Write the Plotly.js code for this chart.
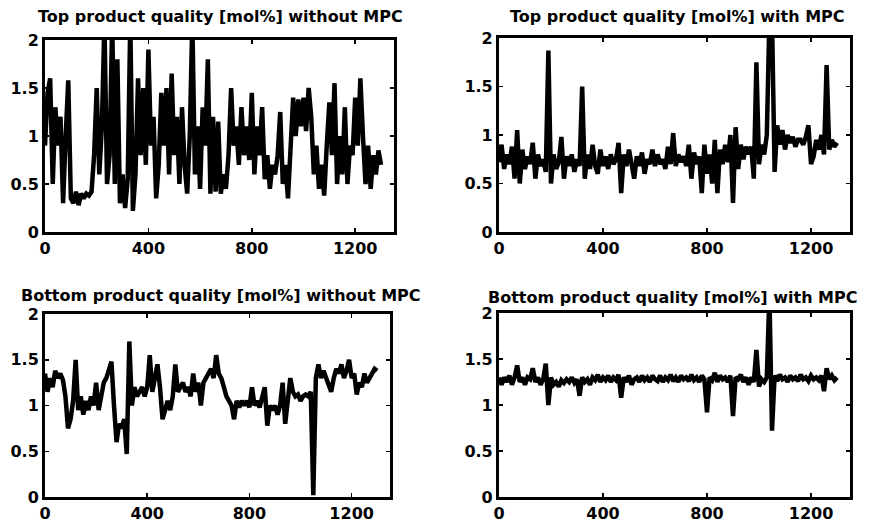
<!DOCTYPE html>
<html>
<head>
<meta charset="utf-8">
<script src="https://cdn.plot.ly/plotly-3.0.1.min.js"></script>
<style>html,body{margin:0;padding:0;background:#fff;}#chart{width:872px;height:529px;}</style>
</head>
<body>
<div id="chart"></div>
<script>
const sampleTimes = [0,10,20,30,40,50,60,70,80,90,100,110,120,130,140,150,160,170,180,190,200,210,220,230,240,250,260,270,280,290,300,310,320,330,340,350,360,370,380,390,400,410,420,430,440,450,460,470,480,490,500,510,520,530,540,550,560,570,580,590,600,610,620,630,640,650,660,670,680,690,700,710,720,730,740,750,760,770,780,790,800,810,820,830,840,850,860,870,880,890,900,910,920,930,940,950,960,970,980,990,1000,1010,1020,1030,1040,1050,1060,1070,1080,1090,1100,1110,1120,1130,1140,1150,1160,1170,1180,1190,1200,1210,1220,1230,1240,1250,1260,1270,1280,1290,1300];

const topWithout = [0.9,1.45,1.6,0.5,1.3,0.9,1.2,0.3,1.0,1.58,0.35,0.3,0.42,0.28,0.4,0.35,0.4,0.38,0.42,0.8,1.5,0.6,1.1,2.2,0.5,0.8,2.2,0.5,1.8,0.3,0.6,0.25,0.55,2.2,0.22,0.6,1.6,0.8,1.5,0.7,1.9,0.9,1.2,0.35,0.7,1.45,0.9,1.5,0.6,1.65,0.8,1.2,0.5,1.3,0.7,0.4,1.0,2.2,0.6,1.1,0.45,1.3,0.9,1.8,0.4,1.2,0.42,1.15,0.4,0.6,0.45,0.8,1.5,0.9,1.1,0.7,1.3,0.8,1.1,0.75,1.45,0.6,1.1,0.8,1.3,0.55,0.8,0.45,0.7,0.6,0.8,1.25,0.5,0.7,0.35,0.8,1.4,1.0,1.38,1.1,1.4,1.05,1.5,1.2,0.6,0.9,0.45,0.7,0.38,0.9,1.35,0.8,1.55,0.5,1.0,0.6,1.3,0.5,0.9,0.8,1.4,0.9,1.6,1.0,0.5,0.9,0.45,0.8,0.6,0.85,0.7];

const topWith = [0.72,0.9,0.65,0.8,0.7,0.88,0.55,1.05,0.5,0.85,0.65,0.78,0.7,0.92,0.55,0.8,0.68,0.75,0.62,1.87,0.5,0.8,0.65,0.72,0.98,0.55,0.78,0.68,0.8,0.62,0.75,0.68,1.5,0.55,0.8,0.65,0.9,0.68,0.6,0.85,0.68,0.78,0.65,0.8,0.7,0.75,0.92,0.4,0.8,0.68,0.85,0.7,0.55,0.78,0.68,0.82,0.6,0.75,0.7,0.85,0.68,0.8,0.7,0.75,0.65,0.88,0.7,1.02,0.68,0.8,0.72,0.78,0.68,0.9,0.55,0.82,0.7,0.78,0.4,0.9,0.6,0.8,0.5,0.95,0.4,0.85,0.7,0.9,0.72,1.0,0.3,1.08,0.65,0.9,0.75,0.88,0.8,0.88,0.55,1.75,0.7,0.9,0.8,1.0,2.2,2.2,0.62,1.1,0.9,1.05,0.85,1.0,0.92,0.98,0.88,0.95,0.95,0.9,0.98,1.1,0.7,0.78,0.95,0.85,1.0,0.8,1.72,0.85,0.95,0.88,0.92];

const bottomWithout = [1.35,1.15,1.3,1.2,1.38,1.3,1.35,1.28,1.1,0.75,0.85,1.05,1.5,0.95,1.1,0.9,1.05,0.95,1.1,1.0,1.25,0.95,1.1,1.25,1.3,1.4,1.48,1.0,0.6,0.8,0.75,0.85,0.47,1.7,1.0,1.2,1.1,1.15,1.2,1.1,1.2,1.55,1.15,1.3,1.45,1.2,0.85,0.95,1.05,0.95,1.1,1.45,1.15,1.2,1.25,1.15,1.2,1.1,1.35,1.15,1.25,1.0,1.25,1.3,1.35,1.4,1.3,1.55,1.35,1.3,1.2,1.1,1.05,1.0,0.85,1.05,0.98,1.05,1.0,1.05,0.98,1.2,1.0,1.05,0.98,1.1,1.2,0.78,1.0,0.95,1.0,0.9,1.0,1.25,0.8,1.05,1.3,1.15,1.1,1.12,1.05,1.1,1.12,1.1,1.15,0.02,1.3,1.45,1.3,1.38,1.3,1.25,1.15,1.3,1.4,1.35,1.45,1.3,1.38,1.5,1.3,1.35,1.12,1.25,1.2,1.35,1.25,1.3,1.35,1.4,1.38];

const bottomWith = [1.3,1.22,1.3,1.25,1.32,1.22,1.3,1.43,1.25,1.3,1.22,1.3,1.28,1.4,1.25,1.3,1.22,1.28,1.45,1.0,1.3,1.22,1.25,1.2,1.27,1.24,1.28,1.25,1.3,1.24,1.28,1.1,1.3,1.25,1.28,1.22,1.3,1.27,1.33,1.25,1.3,1.27,1.32,1.25,1.3,1.27,1.33,1.08,1.3,1.25,1.32,1.22,1.28,1.3,1.25,1.32,1.27,1.3,1.25,1.32,1.28,1.26,1.32,1.25,1.3,1.27,1.33,1.26,1.3,1.25,1.32,1.28,1.3,1.26,1.33,1.27,1.3,1.25,1.32,1.28,0.92,1.3,1.27,1.35,1.25,1.32,1.28,1.3,1.25,1.32,0.88,1.3,1.28,1.33,1.25,1.3,1.22,1.3,1.25,1.6,1.2,1.28,1.25,1.3,2.2,0.72,1.32,1.26,1.33,1.28,1.3,1.25,1.32,1.28,1.3,1.26,1.33,1.28,1.3,1.26,1.32,1.28,1.3,1.27,1.32,1.15,1.4,1.28,1.32,1.27,1.3];

const panelTitles = [
  'Top product quality [mol%] without MPC',
  'Top product quality [mol%] with MPC',
  'Bottom product quality [mol%] without MPC',
  'Bottom product quality [mol%] with MPC'
];
const xTicks = [0, 400, 800, 1200];
const yTicks = [0, 0.5, 1, 1.5, 2];
const yTickText = ['0', '0.5', '1', '1.5', '2'];

const FONT = 'DejaVu Sans, Arial, sans-serif';
const series = [topWithout, topWith, bottomWithout, bottomWith];
const axisIds = ['', '2', '3', '4'];
const traces = series.map((s, i) => ({
  type: 'scatter', mode: 'lines', x: sampleTimes, y: s,
  xaxis: 'x' + axisIds[i], yaxis: 'y' + axisIds[i],
  line: {color: '#000', width: 4.5}, showlegend: false, hoverinfo: 'skip'
}));

const xDomains = [[0.0516, 0.4518], [0.5722, 0.9748], [0.0516, 0.4472], [0.5722, 0.9748]];
const yDomains = [[0.5614, 0.9244], [0.5614, 0.9282], [0.0605, 0.4064], [0.0605, 0.4083]];

function xa(i) {
  return {
    domain: xDomains[i], range: [0, 1350], anchor: 'y' + axisIds[i],
    tickvals: xTicks, ticks: 'inside', ticklen: 4, tickwidth: 1.5, tickcolor: '#000',
    showline: true, linecolor: '#000', linewidth: 3, mirror: 'allticks',
    showgrid: false, zeroline: false, fixedrange: true,
    tickfont: {family: FONT, size: 16, color: '#000', weight: 'bold'}
  };
}
function ya(i) {
  return {
    domain: yDomains[i], range: [0, 2], anchor: 'x' + axisIds[i],
    tickvals: yTicks, ticktext: yTickText, ticks: 'inside', ticklen: 4, tickwidth: 1.5, tickcolor: '#000',
    showline: true, linecolor: '#000', linewidth: 3, mirror: 'allticks',
    showgrid: false, zeroline: false, fixedrange: true,
    tickfont: {family: FONT, size: 16, color: '#000', weight: 'bold'}
  };
}

const titlePos = [[220, 17], [677, 17], [221, 295], [673, 297]];
const annotations = panelTitles.map((t, i) => ({
  text: '<b>' + t + '</b>', xref: 'paper', yref: 'paper',
  x: titlePos[i][0] / 872, y: 1 - titlePos[i][1] / 529,
  xanchor: 'center', yanchor: 'middle', showarrow: false,
  font: {family: FONT, size: 16, color: '#000'}
}));

const layout = {
  width: 872, height: 529, margin: {l: 0, r: 0, t: 0, b: 0},
  paper_bgcolor: '#fff', plot_bgcolor: '#fff', showlegend: false,
  annotations: annotations
};
for (let i = 0; i < 4; i++) {
  layout['xaxis' + axisIds[i]] = xa(i);
  layout['yaxis' + axisIds[i]] = ya(i);
}
Plotly.newPlot('chart', traces, layout, {staticPlot: true, displayModeBar: false});
</script>
</body>
</html>
